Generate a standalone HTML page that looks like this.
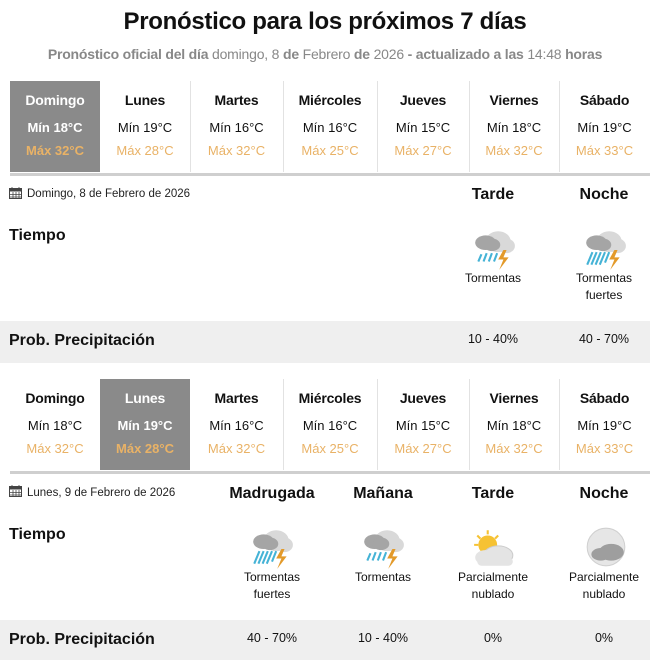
<!DOCTYPE html>
<html><head><meta charset="utf-8"><style>
*{margin:0;padding:0;box-sizing:border-box}
body{width:650px;height:660px;background:#fff;font-family:"Liberation Sans",sans-serif;position:relative;overflow:hidden;color:#111}
.a{position:absolute;white-space:nowrap}
.c{text-align:center}
.col{position:absolute;text-align:center}
.dn{position:absolute;left:0;right:0;font-weight:bold;font-size:14px;letter-spacing:-0.2px}
.mn{position:absolute;left:0;right:0;font-size:13px}
.mx{position:absolute;left:0;right:0;font-size:13px;color:#e9b266}
.sep{position:absolute;width:1px;background:#e2e2e2}
.sel{background:#8a8a8a}
.sel .dn,.sel .mn{color:#fff}
.hb{font-weight:bold;font-size:16px}
.lab{font-size:12px;line-height:17px;position:absolute;text-align:center;width:110px}
.band{position:absolute;left:0;width:650px;background:#efefef}
</style></head><body>
<div class="a c" style="left:0;width:650px;top:8px;font-size:24px;font-weight:bold;letter-spacing:-0.3px">Pronóstico para los próximos 7 días</div>
<div class="a c" style="left:0;width:650px;top:46px;font-size:14px;color:#888;letter-spacing:-0.2px"><b>Pronóstico oficial del día</b> domingo, 8 <b>de</b> Febrero <b>de</b> 2026 <b>- actualizado a las</b> 14:48 <b>horas</b></div>

<script>
const cols=[10,100,190,283,377,469,559,650];
const days=[["Domingo","18","32"],["Lunes","19","28"],["Martes","16","32"],["Miércoles","16","25"],["Jueves","15","27"],["Viernes","18","32"],["Sábado","19","33"]];
function row(top,sel){
 let h='';
 for(let i=0;i<7;i++){
  h+=`<div class="col${i==sel?' sel':''}" style="left:${cols[i]}px;width:${cols[i+1]-cols[i]}px;top:${top}px;height:91px">
  <div class="dn" style="top:11px">${days[i][0]}</div>
  <div class="mn" style="top:39px${i==sel?';font-weight:bold':''}">Mín ${days[i][1]}°C</div>
  <div class="mx" style="top:62px${i==sel?';font-weight:bold':''}">Máx ${days[i][2]}°C</div></div>`;
  if(i>0 && i!=sel && i!=sel+1) h+=`<div class="sep" style="left:${cols[i]}px;top:${top}px;height:91px"></div>`;
 }
 h+=`<div class="a" style="left:10px;width:640px;top:${top+92}px;height:3px;background:#cfcfcf"></div>`;
 document.write(h);
}
</script>
<script>row(81,0)</script>

<svg width="0" height="0" style="position:absolute">
<defs>
<g id="storm"><ellipse cx="26" cy="14" rx="12" ry="10" fill="#d9d9d9"/><ellipse cx="34" cy="18" rx="8" ry="7" fill="#d9d9d9"/><ellipse cx="14" cy="15" rx="10" ry="7" fill="#a5a5a5"/><ellipse cx="20" cy="17" rx="8" ry="6" fill="#a5a5a5"/>
<path d="M10 26l-3 7M15 25l-3 8M20 25l-3 8M25 25l-3 8" stroke="#45b3d6" stroke-width="2"/><path d="M31 22l-5 9h5l-4 10l9-12h-5l3-7z" fill="#e39a2a"/></g>
<g id="storm2"><ellipse cx="26" cy="14" rx="12" ry="10" fill="#d9d9d9"/><ellipse cx="34" cy="18" rx="8" ry="7" fill="#d9d9d9"/><ellipse cx="14" cy="15" rx="10" ry="7" fill="#a5a5a5"/><ellipse cx="20" cy="17" rx="8" ry="6" fill="#a5a5a5"/>
<path d="M10 24l-5 12M14 24l-5 12M18 24l-5 12M22 24l-5 12M26 24l-4 10" stroke="#45b3d6" stroke-width="2"/><path d="M31 22l-5 9h5l-4 10l9-12h-5l3-7z" fill="#e39a2a"/></g>
<g id="sun"><circle cx="16" cy="18" r="9" fill="#f6c233"/><path d="M16 4v4M6 9l3 3M26 9l-3 3M3 18h4" stroke="#f6c233" stroke-width="2"/><ellipse cx="26" cy="28" rx="14" ry="9" fill="#e4e4e4" stroke="#ccc"/><ellipse cx="14" cy="30" rx="10" ry="7" fill="#e4e4e4"/><rect x="6" y="30" width="34" height="8" rx="4" fill="#e4e4e4"/></g>
<g id="moon"><circle cx="22" cy="21" r="18" fill="#e6e6e6" stroke="#d0d0d0"/><ellipse cx="27" cy="26" rx="12" ry="8" fill="#9e9e9e"/><ellipse cx="17" cy="28" rx="9" ry="6" fill="#9e9e9e"/></g>
<g id="cal"><rect x="0.5" y="2.5" width="12" height="10" fill="none" stroke="#444"/><rect x="0.5" y="2.5" width="12" height="3" fill="#444"/><path d="M3 1v3M10 1v3M4 6v6M7 6v6M10 6v6M1 8.5h11M1 11h11" stroke="#444" stroke-width="0.8"/></g>
</defs></svg>

<svg class="a" style="left:9px;top:186px" width="14" height="14"><use href="#cal"/></svg>
<div class="a" style="left:27px;top:188px;font-size:11.5px;color:#222">Domingo, 8 de Febrero de 2026</div>
<div class="a hb c" style="left:438px;width:110px;top:186px">Tarde</div>
<div class="a hb c" style="left:549px;width:110px;top:186px">Noche</div>
<div class="a hb" style="left:9px;top:227px">Tiempo</div>
<svg class="a" style="left:471px;top:227px" width="46" height="44" viewBox="0 0 44 42"><use href="#storm"/></svg>
<svg class="a" style="left:582px;top:227px" width="46" height="44" viewBox="0 0 44 42"><use href="#storm2"/></svg>
<div class="lab" style="left:438px;top:270px">Tormentas</div>
<div class="lab" style="left:549px;top:270px">Tormentas<br>fuertes</div>
<div class="band" style="top:321px;height:42px"></div>
<div class="a hb" style="left:9px;top:332px">Prob. Precipitación</div>
<div class="lab" style="left:438px;top:331px;font-size:12.5px">10 - 40%</div>
<div class="lab" style="left:549px;top:331px;font-size:12.5px">40 - 70%</div>

<script>row(379,1)</script>

<svg class="a" style="left:9px;top:484px" width="14" height="14"><use href="#cal"/></svg>
<div class="a" style="left:27px;top:487px;font-size:11.5px;color:#222">Lunes, 9 de Febrero de 2026</div>
<div class="a hb c" style="left:217px;width:110px;top:485px">Madrugada</div>
<div class="a hb c" style="left:328px;width:110px;top:485px">Mañana</div>
<div class="a hb c" style="left:438px;width:110px;top:485px">Tarde</div>
<div class="a hb c" style="left:549px;width:110px;top:485px">Noche</div>
<div class="a hb" style="left:9px;top:526px">Tiempo</div>
<svg class="a" style="left:249px;top:526px" width="46" height="44" viewBox="0 0 44 42"><use href="#storm2"/></svg>
<svg class="a" style="left:360px;top:526px" width="46" height="44" viewBox="0 0 44 42"><use href="#storm"/></svg>
<svg class="a" style="left:471px;top:526px" width="46" height="44" viewBox="0 0 44 42"><use href="#sun"/></svg>
<svg class="a" style="left:583px;top:525px" width="46" height="44" viewBox="0 0 44 42"><use href="#moon"/></svg>
<div class="lab" style="left:217px;top:569px">Tormentas<br>fuertes</div>
<div class="lab" style="left:328px;top:569px">Tormentas</div>
<div class="lab" style="left:438px;top:569px">Parcialmente<br>nublado</div>
<div class="lab" style="left:549px;top:569px">Parcialmente<br>nublado</div>
<div class="band" style="top:620px;height:40px"></div>
<div class="a hb" style="left:9px;top:631px">Prob. Precipitación</div>
<div class="lab" style="left:217px;top:630px;font-size:12.5px">40 - 70%</div>
<div class="lab" style="left:328px;top:630px;font-size:12.5px">10 - 40%</div>
<div class="lab" style="left:438px;top:630px;font-size:12.5px">0%</div>
<div class="lab" style="left:549px;top:630px;font-size:12.5px">0%</div>
</body></html>
